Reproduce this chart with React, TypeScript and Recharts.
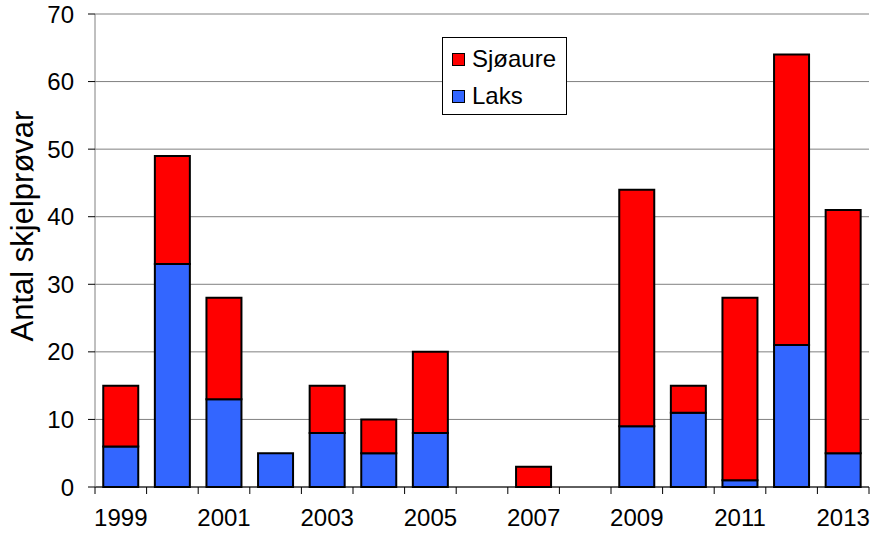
import { BarChart, Bar, XAxis, YAxis, CartesianGrid, Legend } from "recharts";

const years = ["1999", "2000", "2001", "2002", "2003", "2004", "2005", "2006", "2007", "2008", "2009", "2010", "2011", "2012", "2013"];
const laks = [6, 33, 13, 5, 8, 5, 8, 0, 0, 0, 9, 11, 1, 21, 5];
const sjoaure = [9, 16, 15, 0, 7, 5, 12, 0, 3, 0, 35, 4, 27, 43, 36];
const yTicks = [0, 10, 20, 30, 40, 50, 60, 70];

const data = years.map((year, i) => ({ year, laks: laks[i], sjoaure: sjoaure[i] }));

const W = 882;
const H = 535;
const MARGIN = { top: 14, right: 13, bottom: 0, left: 0 };
const Y_W = 95;
const STEP = (W - MARGIN.right - Y_W) / years.length;
const FONT = "Arial, 'Liberation Sans', sans-serif";

const XTick = (props: any) => {
  const { x, y, index, payload } = props;
  const half = STEP / 2;
  return (
    <g>
      <line x1={x - half} x2={x - half} y1={y} y2={y + 7} stroke="#000" />
      {index === years.length - 1 && <line x1={x + half} x2={x + half} y1={y} y2={y + 7} stroke="#000" />}
      {index % 2 === 0 && (
        <text x={x} y={y + 39} textAnchor="middle" fontSize={24} fill="#000" fontFamily={FONT}>
          {payload.value}
        </text>
      )}
    </g>
  );
};

const LegendBox = () => (
  <div
    style={{
      width: 123,
      height: 76,
      border: "1px solid #000",
      background: "#fff",
      fontFamily: FONT,
      fontSize: 24,
      lineHeight: "24px",
      color: "#000",
      boxSizing: "content-box",
    }}
  >
    {[
      { name: "Sjøaure", color: "#ff0000" },
      { name: "Laks", color: "#3366ff" },
    ].map((it, i) => (
      <div key={it.name} style={{ display: "flex", alignItems: "center", height: 26, marginTop: i === 0 ? 8 : 11, marginLeft: 9 }}>
        <span style={{ width: 11, height: 11, background: it.color, border: "1px solid #000", marginRight: 7 }} />
        <span>{it.name}</span>
      </div>
    ))}
  </div>
);

const App = () => {
  return (
    <div style={{ position: "absolute", left: 0, top: 0, width: W, height: H, background: "#fff" }}>
      <BarChart width={W} height={H} data={data} margin={MARGIN} barCategoryGap="16%">
        <CartesianGrid vertical={false} stroke="#808080" />
        <XAxis
          dataKey="year"
          height={48}
          interval={0}
          tickLine={false}
          tickSize={0}
          tickMargin={0}
          axisLine={{ stroke: "#000" }}
          tick={<XTick />}
        />
        <YAxis
          domain={[0, 70]}
          ticks={yTicks}
          width={Y_W}
          tickSize={7}
          tickMargin={14}
          axisLine={{ stroke: "#808080" }}
          tickLine={{ stroke: "#000" }}
          tick={{ fontSize: 24, fill: "#000", fontFamily: FONT }}
          label={{
            content: () => (
              <text
                transform="translate(22,226) rotate(-90)"
                textAnchor="middle"
                dominantBaseline="central"
                fontSize={31}
                fill="#000"
                fontFamily={FONT}
              >
                Antal skjelprøvar
              </text>
            ),
          }}
        />
        <YAxis yAxisId="right" orientation="right" width={0} tick={false} tickLine={false} axisLine={{ stroke: "#808080" }} />
        <Legend
          layout="vertical"
          verticalAlign="middle"
          align="center"
          wrapperStyle={{ left: 442, top: 37, width: "auto", height: "auto" }}
          content={() => <LegendBox />}
        />
        <Bar dataKey="laks" name="Laks" stackId="a" fill="#3366ff" stroke="#000" strokeWidth={2} isAnimationActive={false} />
        <Bar dataKey="sjoaure" name="Sjøaure" stackId="a" fill="#ff0000" stroke="#000" strokeWidth={2} isAnimationActive={false} />
      </BarChart>
    </div>
  );
};

export default App;
